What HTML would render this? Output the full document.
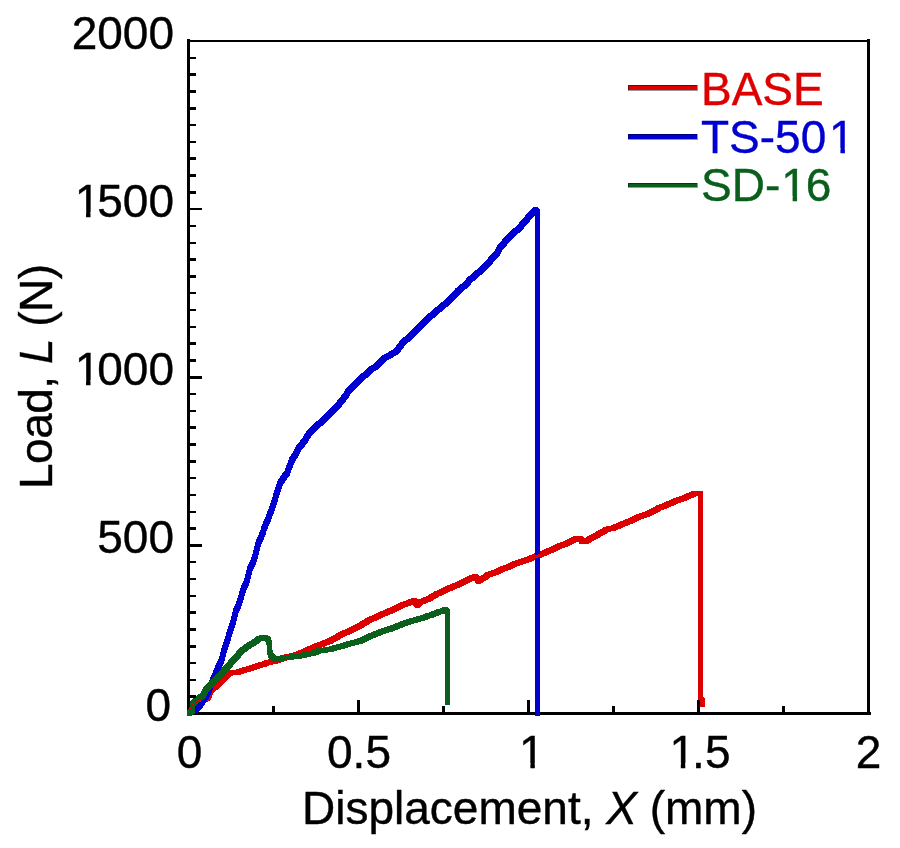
<!DOCTYPE html>
<html><head><meta charset="utf-8"><title>Load vs Displacement</title>
<style>
html,body{margin:0;padding:0;background:#fff;width:900px;height:848px;overflow:hidden}
svg{display:block}
text{font-family:"Liberation Sans",Arial,sans-serif;font-size:46px}
</style></head><body>
<svg width="900" height="848" viewBox="0 0 900 848">
<rect width="900" height="848" fill="#fff"/>
<g fill="#000" shape-rendering="crispEdges">
<rect x="187" y="39" width="3" height="676"/>
<rect x="867" y="39" width="3" height="676"/>
<rect x="187" y="40" width="683" height="2"/>
<rect x="187" y="712" width="684" height="3"/>
</g>
<g shape-rendering="crispEdges">
<path fill="#dc0000" d="M189.00 708.50L190.00 705.00L195.00 705.00L195.00 710.00L194.00 713.50L189.00 713.50ZM190.00 705.00L192.10 700.50L197.10 700.50L197.10 705.50L195.00 710.00L190.00 710.00ZM192.10 700.50L196.70 699.00L201.70 699.00L201.70 704.00L197.10 705.50L192.10 705.50ZM196.70 699.00L201.00 697.30L206.00 697.30L206.00 702.30L201.70 704.00L196.70 704.00ZM201.00 697.30L205.30 695.80L210.30 695.80L210.30 700.80L206.00 702.30L201.00 702.30ZM205.30 695.80L208.10 688.50L213.10 688.50L213.10 693.50L210.30 700.80L205.30 700.80ZM208.10 688.50L213.70 683.50L218.70 683.50L218.70 688.50L213.10 693.50L208.10 693.50ZM213.70 683.50L217.30 680.00L222.30 680.00L222.30 685.00L218.70 688.50L213.70 688.50ZM217.30 680.00L222.50 675.00L227.50 675.00L227.50 680.00L222.30 685.00L217.30 685.00ZM222.50 675.00L226.00 671.70L231.00 671.70L231.00 676.70L227.50 680.00L222.50 680.00ZM226.00 671.70L229.00 670.10L234.00 670.10L234.00 675.10L231.00 676.70L226.00 676.70ZM229.00 670.10L234.60 669.80L239.60 669.80L239.60 674.80L234.00 675.10L229.00 675.10ZM234.60 669.80L240.80 668.00L245.80 668.00L245.80 673.00L239.60 674.80L234.60 674.80ZM240.80 668.00L247.90 665.80L252.90 665.80L252.90 670.80L245.80 673.00L240.80 673.00ZM247.90 665.80L254.20 663.80L259.20 663.80L259.20 668.80L252.90 670.80L247.90 670.80ZM254.20 663.80L261.30 661.60L266.30 661.60L266.30 666.60L259.20 668.80L254.20 668.80ZM261.30 661.60L265.70 660.00L270.70 660.00L270.70 665.00L266.30 666.60L261.30 666.60ZM265.70 660.00L271.90 658.90L276.90 658.90L276.90 663.90L270.70 665.00L265.70 665.00ZM271.90 658.90L277.30 657.00L282.30 657.00L282.30 662.00L276.90 663.90L271.90 663.90ZM277.30 657.00L281.50 655.70L286.50 655.70L286.50 660.70L282.30 662.00L277.30 662.00ZM281.50 655.70L285.00 654.30L290.00 654.30L290.00 659.30L286.50 660.70L281.50 660.70ZM285.00 654.30L287.50 654.00L292.50 654.00L292.50 659.00L290.00 659.30L285.00 659.30ZM287.50 654.00L293.00 652.50L298.00 652.50L298.00 657.50L292.50 659.00L287.50 659.00ZM293.00 652.50L297.50 650.90L302.50 650.90L302.50 655.90L298.00 657.50L293.00 657.50ZM297.50 650.90L302.00 648.90L307.00 648.90L307.00 653.90L302.50 655.90L297.50 655.90ZM302.00 648.90L307.00 646.70L312.00 646.70L312.00 651.70L307.00 653.90L302.00 653.90ZM307.00 646.70L311.50 644.70L316.50 644.70L316.50 649.70L312.00 651.70L307.00 651.70ZM311.50 644.70L315.50 643.10L320.50 643.10L320.50 648.10L316.50 649.70L311.50 649.70ZM315.50 643.10L319.50 641.70L324.50 641.70L324.50 646.70L320.50 648.10L315.50 648.10ZM319.50 641.70L327.50 638.50L332.50 638.50L332.50 643.50L324.50 646.70L319.50 646.70ZM327.50 638.50L337.50 632.80L342.50 632.80L342.50 637.80L332.50 643.50L327.50 643.50ZM337.50 632.80L347.50 628.20L352.50 628.20L352.50 633.20L342.50 637.80L337.50 637.80ZM347.50 628.20L357.50 623.20L362.50 623.20L362.50 628.20L352.50 633.20L347.50 633.20ZM357.50 623.20L367.50 617.30L372.50 617.30L372.50 622.30L362.50 628.20L357.50 628.20ZM367.50 617.30L374.20 614.50L379.20 614.50L379.20 619.50L372.50 622.30L367.50 622.30ZM374.20 614.50L380.80 611.20L385.80 611.20L385.80 616.20L379.20 619.50L374.20 619.50ZM380.80 611.20L387.50 608.50L392.50 608.50L392.50 613.50L385.80 616.20L380.80 616.20ZM387.50 608.50L394.20 605.50L399.20 605.50L399.20 610.50L392.50 613.50L387.50 613.50ZM394.20 605.50L400.80 602.30L405.80 602.30L405.80 607.30L399.20 610.50L394.20 610.50ZM400.80 602.30L407.50 599.80L412.50 599.80L412.50 604.80L405.80 607.30L400.80 607.30ZM407.50 599.80L411.50 598.20L416.50 598.20L416.50 603.20L412.50 604.80L407.50 604.80ZM411.50 598.20L416.50 598.20L420.00 602.70L420.00 607.70L415.00 607.70L411.50 603.20ZM415.00 602.70L418.00 599.00L423.00 599.00L423.00 604.00L420.00 607.70L415.00 607.70ZM418.00 599.00L420.80 598.60L425.80 598.60L425.80 603.60L423.00 604.00L418.00 604.00ZM420.80 598.60L426.20 596.30L431.20 596.30L431.20 601.30L425.80 603.60L420.80 603.60ZM426.20 596.30L434.20 591.50L439.20 591.50L439.20 596.50L431.20 601.30L426.20 601.30ZM434.20 591.50L440.80 588.80L445.80 588.80L445.80 593.80L439.20 596.50L434.20 596.50ZM440.80 588.80L447.50 585.50L452.50 585.50L452.50 590.50L445.80 593.80L440.80 593.80ZM447.50 585.50L454.20 582.80L459.20 582.80L459.20 587.80L452.50 590.50L447.50 590.50ZM454.20 582.80L460.80 579.80L465.80 579.80L465.80 584.80L459.20 587.80L454.20 587.80ZM460.80 579.80L467.50 576.20L472.50 576.20L472.50 581.20L465.80 584.80L460.80 584.80ZM467.50 576.20L472.80 574.20L477.80 574.20L477.80 579.20L472.50 581.20L467.50 581.20ZM472.80 574.20L477.80 574.20L481.20 578.70L481.20 583.70L476.20 583.70L472.80 579.20ZM476.20 578.70L479.00 576.50L484.00 576.50L484.00 581.50L481.20 583.70L476.20 583.70ZM479.00 576.50L480.80 576.00L485.80 576.00L485.80 581.00L484.00 581.50L479.00 581.50ZM480.80 576.00L485.50 572.20L490.50 572.20L490.50 577.20L485.80 581.00L480.80 581.00ZM485.50 572.20L492.20 570.30L497.20 570.30L497.20 575.30L490.50 577.20L485.50 577.20ZM492.20 570.30L498.80 567.00L503.80 567.00L503.80 572.00L497.20 575.30L492.20 575.30ZM498.80 567.00L505.50 564.80L510.50 564.80L510.50 569.80L503.80 572.00L498.80 572.00ZM505.50 564.80L512.20 561.50L517.20 561.50L517.20 566.50L510.50 569.80L505.50 569.80ZM512.20 561.50L518.80 559.20L523.80 559.20L523.80 564.20L517.20 566.50L512.20 566.50ZM518.80 559.20L525.50 557.00L530.50 557.00L530.50 562.00L523.80 564.20L518.80 564.20ZM525.50 557.00L530.80 555.00L535.80 555.00L535.80 560.00L530.50 562.00L525.50 562.00ZM530.80 555.00L538.80 551.70L543.80 551.70L543.80 556.70L535.80 560.00L530.80 560.00ZM538.80 551.70L544.20 549.50L549.20 549.50L549.20 554.50L543.80 556.70L538.80 556.70ZM544.20 549.50L549.20 547.30L554.20 547.30L554.20 552.30L549.20 554.50L544.20 554.50ZM549.20 547.30L555.80 544.00L560.80 544.00L560.80 549.00L554.20 552.30L549.20 552.30ZM555.80 544.00L562.50 541.80L567.50 541.80L567.50 546.80L560.80 549.00L555.80 549.00ZM562.50 541.80L569.20 538.50L574.20 538.50L574.20 543.50L567.50 546.80L562.50 546.80ZM569.20 538.50L573.80 536.30L578.80 536.30L578.80 541.30L574.20 543.50L569.20 543.50ZM573.80 536.30L577.00 535.70L582.00 535.70L582.00 540.70L578.80 541.30L573.80 541.30ZM577.00 535.70L582.00 535.70L584.50 538.70L584.50 543.70L579.50 543.70L577.00 540.70ZM579.50 538.70L588.50 538.70L588.50 543.70L579.50 543.70ZM583.50 538.70L589.20 535.50L594.20 535.50L594.20 540.50L588.50 543.70L583.50 543.70ZM589.20 535.50L595.80 531.80L600.80 531.80L600.80 536.80L594.20 540.50L589.20 540.50ZM595.80 531.80L601.20 528.80L606.20 528.80L606.20 533.80L600.80 536.80L595.80 536.80ZM601.20 528.80L604.20 526.80L609.20 526.80L609.20 531.80L606.20 533.80L601.20 533.80ZM604.20 526.80L610.80 525.50L615.80 525.50L615.80 530.50L609.20 531.80L604.20 531.80ZM610.80 525.50L617.50 522.70L622.50 522.70L622.50 527.70L615.80 530.50L610.80 530.50ZM617.50 522.70L624.20 520.00L629.20 520.00L629.20 525.00L622.50 527.70L617.50 527.70ZM624.20 520.00L630.80 517.20L635.80 517.20L635.80 522.20L629.20 525.00L624.20 525.00ZM630.80 517.20L637.50 514.00L642.50 514.00L642.50 519.00L635.80 522.20L630.80 522.20ZM637.50 514.00L644.20 511.80L649.20 511.80L649.20 516.80L642.50 519.00L637.50 519.00ZM644.20 511.80L650.80 508.80L655.80 508.80L655.80 513.80L649.20 516.80L644.20 516.80ZM650.80 508.80L656.20 505.50L661.20 505.50L661.20 510.50L655.80 513.80L650.80 513.80ZM656.20 505.50L658.10 504.70L663.10 504.70L663.10 509.70L661.20 510.50L656.20 510.50ZM658.10 504.70L663.60 502.80L668.60 502.80L668.60 507.80L663.10 509.70L658.10 509.70ZM663.60 502.80L669.20 500.20L674.20 500.20L674.20 505.20L668.60 507.80L663.60 507.80ZM669.20 500.20L674.70 497.90L679.70 497.90L679.70 502.90L674.20 505.20L669.20 505.20ZM674.70 497.90L680.30 496.10L685.30 496.10L685.30 501.10L679.70 502.90L674.70 502.90ZM680.30 496.10L685.80 493.60L690.80 493.60L690.80 498.60L685.30 501.10L680.30 501.10ZM685.80 493.60L691.40 491.50L696.40 491.50L696.40 496.50L690.80 498.60L685.80 498.60ZM691.40 491.50L695.50 491.10L700.50 491.10L700.50 496.10L696.40 496.50L691.40 496.50ZM695.50 491.10L702.90 491.10L702.90 496.10L695.50 496.10ZM697.90 491.10L702.90 491.10L702.90 701.00L697.90 701.00ZM697.90 696.00L702.90 696.00L705.00 698.50L705.00 703.50L700.00 703.50L697.90 701.00ZM700.00 698.50L705.00 698.50L705.00 707.00L700.00 707.00Z"/>
<path fill="#0000d0" d="M189.80 707.80L197.80 707.80L197.80 712.80L189.80 712.80ZM192.80 707.80L195.50 705.00L200.50 705.00L200.50 710.00L197.80 712.80L192.80 712.80ZM195.50 705.00L197.50 703.00L202.50 703.00L202.50 708.00L200.50 710.00L195.50 710.00ZM197.50 703.00L200.00 699.00L205.00 699.00L205.00 704.00L202.50 708.00L197.50 708.00ZM200.00 699.00L203.00 694.50L208.00 694.50L208.00 699.50L205.00 704.00L200.00 704.00ZM203.00 694.50L206.50 687.50L211.50 687.50L211.50 692.50L208.00 699.50L203.00 699.50ZM206.50 687.50L210.20 677.80L215.20 677.80L215.20 682.80L211.50 692.50L206.50 692.50ZM210.20 677.80L212.50 672.90L217.50 672.90L217.50 677.90L215.20 682.80L210.20 682.80ZM212.50 672.90L215.20 665.80L220.20 665.80L220.20 670.80L217.50 677.90L212.50 677.90ZM215.20 665.80L218.90 658.70L223.90 658.70L223.90 663.70L220.20 670.80L215.20 670.80ZM218.90 658.70L220.50 651.70L225.50 651.70L225.50 656.70L223.90 663.70L218.90 663.70ZM220.50 651.70L222.60 644.60L227.60 644.60L227.60 649.60L225.50 656.70L220.50 656.70ZM222.60 644.60L224.10 640.20L229.10 640.20L229.10 645.20L227.60 649.60L222.60 649.60ZM224.10 640.20L227.20 630.30L232.20 630.30L232.20 635.30L229.10 645.20L224.10 645.20ZM227.20 630.30L229.90 622.00L234.90 622.00L234.90 627.00L232.20 635.30L227.20 635.30ZM229.90 622.00L231.90 615.10L236.90 615.10L236.90 620.10L234.90 627.00L229.90 627.00ZM231.90 615.10L233.50 607.70L238.50 607.70L238.50 612.70L236.90 620.10L231.90 620.10ZM233.50 607.70L236.00 602.70L241.00 602.70L241.00 607.70L238.50 612.70L233.50 612.70ZM236.00 602.70L238.00 596.80L243.00 596.80L243.00 601.80L241.00 607.70L236.00 607.70ZM238.00 596.80L239.20 591.80L244.20 591.80L244.20 596.80L243.00 601.80L238.00 601.80ZM239.20 591.80L241.40 585.40L246.40 585.40L246.40 590.40L244.20 596.80L239.20 596.80ZM241.40 585.40L243.60 580.50L248.60 580.50L248.60 585.50L246.40 590.40L241.40 590.40ZM243.60 580.50L244.90 576.50L249.90 576.50L249.90 581.50L248.60 585.50L243.60 585.50ZM244.90 576.50L247.10 567.00L252.10 567.00L252.10 572.00L249.90 581.50L244.90 581.50ZM247.10 567.00L250.70 560.00L255.70 560.00L255.70 565.00L252.10 572.00L247.10 572.00ZM250.70 560.00L252.90 552.90L257.90 552.90L257.90 557.90L255.70 565.00L250.70 565.00ZM252.90 552.90L254.50 545.80L259.50 545.80L259.50 550.80L257.90 557.90L252.90 557.90ZM254.50 545.80L256.50 538.70L261.50 538.70L261.50 543.70L259.50 550.80L254.50 550.80ZM256.50 538.70L259.90 531.70L264.90 531.70L264.90 536.70L261.50 543.70L256.50 543.70ZM259.90 531.70L262.10 524.60L267.10 524.60L267.10 529.60L264.90 536.70L259.90 536.70ZM262.10 524.60L265.50 516.70L270.50 516.70L270.50 521.70L267.10 529.60L262.10 529.60ZM265.50 516.70L267.70 510.80L272.70 510.80L272.70 515.80L270.50 521.70L265.50 521.70ZM267.70 510.80L270.00 504.90L275.00 504.90L275.00 509.90L272.70 515.80L267.70 515.80ZM270.00 504.90L271.90 499.00L276.90 499.00L276.90 504.00L275.00 509.90L270.00 509.90ZM271.90 499.00L273.50 493.10L278.50 493.10L278.50 498.10L276.90 504.00L271.90 504.00ZM273.50 493.10L275.60 487.20L280.60 487.20L280.60 492.20L278.50 498.10L273.50 498.10ZM275.60 487.20L277.30 481.30L282.30 481.30L282.30 486.30L280.60 492.20L275.60 492.20ZM277.30 481.30L280.90 475.40L285.90 475.40L285.90 480.40L282.30 486.30L277.30 486.30ZM280.90 475.40L284.90 470.20L289.90 470.20L289.90 475.20L285.90 480.40L280.90 480.40ZM284.90 470.20L287.00 463.80L292.00 463.80L292.00 468.80L289.90 475.20L284.90 475.20ZM287.00 463.80L289.50 457.50L294.50 457.50L294.50 462.50L292.00 468.80L287.00 468.80ZM289.50 457.50L292.70 452.70L297.70 452.70L297.70 457.70L294.50 462.50L289.50 462.50ZM292.70 452.70L294.50 448.80L299.50 448.80L299.50 453.80L297.70 457.70L292.70 457.70ZM294.50 448.80L296.10 446.00L301.10 446.00L301.10 451.00L299.50 453.80L294.50 453.80ZM296.10 446.00L298.40 443.20L303.40 443.20L303.40 448.20L301.10 451.00L296.10 451.00ZM298.40 443.20L300.50 440.30L305.50 440.30L305.50 445.30L303.40 448.20L298.40 448.20ZM300.50 440.30L302.50 438.10L307.50 438.10L307.50 443.10L305.50 445.30L300.50 445.30ZM302.50 438.10L304.50 434.00L309.50 434.00L309.50 439.00L307.50 443.10L302.50 443.10ZM304.50 434.00L309.00 428.10L314.00 428.10L314.00 433.10L309.50 439.00L304.50 439.00ZM309.00 428.10L316.00 422.00L321.00 422.00L321.00 427.00L314.00 433.10L309.00 433.10ZM316.00 422.00L322.00 416.10L327.00 416.10L327.00 421.10L321.00 427.00L316.00 427.00ZM322.00 416.10L328.30 410.20L333.30 410.20L333.30 415.20L327.00 421.10L322.00 421.10ZM328.30 410.20L334.20 404.30L339.20 404.30L339.20 409.30L333.30 415.20L328.30 415.20ZM334.20 404.30L339.10 398.40L344.10 398.40L344.10 403.40L339.20 409.30L334.20 409.30ZM339.10 398.40L342.90 393.70L347.90 393.70L347.90 398.70L344.10 403.40L339.10 403.40ZM342.90 393.70L346.40 387.90L351.40 387.90L351.40 392.90L347.90 398.70L342.90 398.70ZM346.40 387.90L349.00 385.70L354.00 385.70L354.00 390.70L351.40 392.90L346.40 392.90ZM349.00 385.70L355.50 378.80L360.50 378.80L360.50 383.80L354.00 390.70L349.00 390.70ZM355.50 378.80L362.00 373.00L367.00 373.00L367.00 378.00L360.50 383.80L355.50 383.80ZM362.00 373.00L368.40 367.20L373.40 367.20L373.40 372.20L367.00 378.00L362.00 378.00ZM368.40 367.20L374.90 363.00L379.90 363.00L379.90 368.00L373.40 372.20L368.40 372.20ZM374.90 363.00L381.40 356.10L386.40 356.10L386.40 361.10L379.90 368.00L374.90 368.00ZM381.40 356.10L387.90 352.50L392.90 352.50L392.90 357.50L386.40 361.10L381.40 361.10ZM387.90 352.50L394.40 348.40L399.40 348.40L399.40 353.40L392.90 357.50L387.90 357.50ZM394.40 348.40L399.00 341.80L404.00 341.80L404.00 346.80L399.40 353.40L394.40 353.40ZM399.00 341.80L405.50 335.60L410.50 335.60L410.50 340.60L404.00 346.80L399.00 346.80ZM405.50 335.60L412.00 329.80L417.00 329.80L417.00 334.80L410.50 340.60L405.50 340.60ZM412.00 329.80L418.40 322.70L423.40 322.70L423.40 327.70L417.00 334.80L412.00 334.80ZM418.40 322.70L424.90 316.80L429.90 316.80L429.90 321.80L423.40 327.70L418.40 327.70ZM424.90 316.80L431.40 310.80L436.40 310.80L436.40 315.80L429.90 321.80L424.90 321.80ZM431.40 310.80L437.90 305.50L442.90 305.50L442.90 310.50L436.40 315.80L431.40 315.80ZM437.90 305.50L444.40 300.00L449.40 300.00L449.40 305.00L442.90 310.50L437.90 310.50ZM444.40 300.00L450.00 294.30L455.00 294.30L455.00 299.30L449.40 305.00L444.40 305.00ZM450.00 294.30L455.50 288.50L460.50 288.50L460.50 293.50L455.00 299.30L450.00 299.30ZM455.50 288.50L462.00 283.30L467.00 283.30L467.00 288.30L460.50 293.50L455.50 293.50ZM462.00 283.30L468.40 276.50L473.40 276.50L473.40 281.50L467.00 288.30L462.00 288.30ZM468.40 276.50L474.90 270.90L479.90 270.90L479.90 275.90L473.40 281.50L468.40 281.50ZM474.90 270.90L481.40 265.50L486.40 265.50L486.40 270.50L479.90 275.90L474.90 275.90ZM481.40 265.50L487.90 258.10L492.90 258.10L492.90 263.10L486.40 270.50L481.40 270.50ZM487.90 258.10L494.40 251.00L499.40 251.00L499.40 256.00L492.90 263.10L487.90 263.10ZM494.40 251.00L498.40 243.80L503.40 243.80L503.40 248.80L499.40 256.00L494.40 256.00ZM498.40 243.80L504.30 237.60L509.30 237.60L509.30 242.60L503.40 248.80L498.40 248.80ZM504.30 237.60L510.20 230.80L515.20 230.80L515.20 235.80L509.30 242.60L504.30 242.60ZM510.20 230.80L516.10 226.70L521.10 226.70L521.10 231.70L515.20 235.80L510.20 235.80ZM516.10 226.70L522.00 219.30L527.00 219.30L527.00 224.30L521.10 231.70L516.10 231.70ZM522.00 219.30L527.90 212.80L532.90 212.80L532.90 217.80L527.00 224.30L522.00 224.30ZM527.90 212.80L530.80 209.60L535.80 209.60L535.80 214.60L532.90 217.80L527.90 217.80ZM530.80 209.60L533.00 207.10L538.00 207.10L538.00 212.10L535.80 214.60L530.80 214.60ZM533.00 207.10L538.00 207.10L540.00 209.00L540.00 214.00L535.00 214.00L533.00 212.10ZM535.00 209.00L540.00 209.00L540.00 716.00L535.00 716.00Z"/>
<path fill="#0a5f1c" d="M186.50 710.80L189.80 708.50L194.80 708.50L194.80 713.50L191.50 715.80L186.50 715.80ZM189.80 708.50L190.10 701.50L195.10 701.50L195.10 706.50L194.80 713.50L189.80 713.50ZM190.10 701.50L193.00 698.00L198.00 698.00L198.00 703.00L195.10 706.50L190.10 706.50ZM193.00 698.00L197.50 695.30L202.50 695.30L202.50 700.30L198.00 703.00L193.00 703.00ZM197.50 695.30L201.00 692.30L206.00 692.30L206.00 697.30L202.50 700.30L197.50 700.30ZM201.00 692.30L204.00 686.50L209.00 686.50L209.00 691.50L206.00 697.30L201.00 697.30ZM204.00 686.50L208.60 681.90L213.60 681.90L213.60 686.90L209.00 691.50L204.00 691.50ZM208.60 681.90L213.20 677.30L218.20 677.30L218.20 682.30L213.60 686.90L208.60 686.90ZM213.20 677.30L217.80 672.70L222.80 672.70L222.80 677.70L218.20 682.30L213.20 682.30ZM217.80 672.70L221.80 668.10L226.80 668.10L226.80 673.10L222.80 677.70L217.80 677.70ZM221.80 668.10L225.70 663.80L230.70 663.80L230.70 668.80L226.80 673.10L221.80 673.10ZM225.70 663.80L228.60 660.30L233.60 660.30L233.60 665.30L230.70 668.80L225.70 668.80ZM228.60 660.30L231.90 656.70L236.90 656.70L236.90 661.70L233.60 665.30L228.60 665.30ZM231.90 656.70L235.10 653.20L240.10 653.20L240.10 658.20L236.90 661.70L231.90 661.70ZM235.10 653.20L237.70 649.60L242.70 649.60L242.70 654.60L240.10 658.20L235.10 658.20ZM237.70 649.60L242.50 645.90L247.50 645.90L247.50 650.90L242.70 654.60L237.70 654.60ZM242.50 645.90L245.80 643.30L250.80 643.30L250.80 648.30L247.50 650.90L242.50 650.90ZM245.80 643.30L250.00 641.10L255.00 641.10L255.00 646.10L250.80 648.30L245.80 648.30ZM250.00 641.10L254.00 638.50L259.00 638.50L259.00 643.50L255.00 646.10L250.00 646.10ZM254.00 638.50L257.00 635.80L262.00 635.80L262.00 640.80L259.00 643.50L254.00 643.50ZM257.00 635.80L260.00 635.40L265.00 635.40L265.00 640.40L262.00 640.80L257.00 640.80ZM260.00 635.40L268.00 635.40L268.00 640.40L260.00 640.40ZM263.00 635.40L268.00 635.40L271.00 637.30L271.00 642.30L266.00 642.30L263.00 640.40ZM266.00 637.30L271.00 637.30L271.90 642.50L271.90 647.50L266.90 647.50L266.00 642.30ZM266.90 642.50L271.90 642.50L272.10 648.50L272.10 653.50L267.10 653.50L266.90 647.50ZM267.10 648.50L272.10 648.50L274.00 654.00L274.00 659.00L269.00 659.00L267.10 653.50ZM269.00 654.00L274.00 654.00L277.50 657.10L277.50 662.10L272.50 662.10L269.00 659.00ZM272.50 657.10L277.30 655.80L282.30 655.80L282.30 660.80L277.50 662.10L272.50 662.10ZM277.30 655.80L284.20 655.00L289.20 655.00L289.20 660.00L282.30 660.80L277.30 660.80ZM284.20 655.00L295.30 653.80L300.30 653.80L300.30 658.80L289.20 660.00L284.20 660.00ZM295.30 653.80L303.60 652.10L308.60 652.10L308.60 657.10L300.30 658.80L295.30 658.80ZM303.60 652.10L311.90 650.30L316.90 650.30L316.90 655.30L308.60 657.10L303.60 657.10ZM311.90 650.30L316.40 648.50L321.40 648.50L321.40 653.50L316.90 655.30L311.90 655.30ZM316.40 648.50L327.50 646.80L332.50 646.80L332.50 651.80L321.40 653.50L316.40 653.50ZM327.50 646.80L337.50 644.20L342.50 644.20L342.50 649.20L332.50 651.80L327.50 651.80ZM337.50 644.20L347.50 641.20L352.50 641.20L352.50 646.20L342.50 649.20L337.50 649.20ZM347.50 641.20L357.50 638.50L362.50 638.50L362.50 643.50L352.50 646.20L347.50 646.20ZM357.50 638.50L367.50 633.70L372.50 633.70L372.50 638.70L362.50 643.50L357.50 643.50ZM367.50 633.70L374.20 631.20L379.20 631.20L379.20 636.20L372.50 638.70L367.50 638.70ZM374.20 631.20L380.80 628.50L385.80 628.50L385.80 633.50L379.20 636.20L374.20 636.20ZM380.80 628.50L387.50 626.50L392.50 626.50L392.50 631.50L385.80 633.50L380.80 633.50ZM387.50 626.50L394.20 624.00L399.20 624.00L399.20 629.00L392.50 631.50L387.50 631.50ZM394.20 624.00L400.80 621.20L405.80 621.20L405.80 626.20L399.20 629.00L394.20 629.00ZM400.80 621.20L407.50 618.80L412.50 618.80L412.50 623.80L405.80 626.20L400.80 626.20ZM407.50 618.80L414.20 617.20L419.20 617.20L419.20 622.20L412.50 623.80L407.50 623.80ZM414.20 617.20L418.50 615.80L423.50 615.80L423.50 620.80L419.20 622.20L414.20 622.20ZM418.50 615.80L422.50 614.80L427.50 614.80L427.50 619.80L423.50 620.80L418.50 620.80ZM422.50 614.80L425.80 613.00L430.80 613.00L430.80 618.00L427.50 619.80L422.50 619.80ZM425.80 613.00L429.20 612.50L434.20 612.50L434.20 617.50L430.80 618.00L425.80 618.00ZM429.20 612.50L432.50 611.00L437.50 611.00L437.50 616.00L434.20 617.50L429.20 617.50ZM432.50 611.00L435.80 609.50L440.80 609.50L440.80 614.50L437.50 616.00L432.50 616.00ZM435.80 609.50L439.20 608.80L444.20 608.80L444.20 613.80L440.80 614.50L435.80 614.50ZM439.20 608.80L443.00 607.20L448.00 607.20L448.00 612.20L444.20 613.80L439.20 613.80ZM443.00 607.20L448.00 607.20L449.90 609.50L449.90 614.50L444.90 614.50L443.00 612.20ZM444.90 609.50L449.90 609.50L449.90 704.50L444.90 704.50Z"/>
<path fill="#dc0000" d="M534 555.5L541 553.5L541 556.5L534 558.5Z"/>
<g fill="#dc0000"><rect x="189" y="707" width="2" height="2"/><rect x="191" y="703" width="3" height="2"/><rect x="196" y="702" width="2" height="2"/><rect x="198" y="700" width="3" height="2"/></g>
</g>
<g fill="#000" shape-rendering="crispEdges">
<rect x="189" y="695.44" width="7" height="2.5"/>
<rect x="189" y="678.62" width="7" height="2.5"/>
<rect x="189" y="661.81" width="7" height="2.5"/>
<rect x="189" y="645.00" width="7" height="2.5"/>
<rect x="189" y="628.19" width="7" height="2.5"/>
<rect x="189" y="611.38" width="7" height="2.5"/>
<rect x="189" y="594.56" width="7" height="2.5"/>
<rect x="189" y="577.75" width="7" height="2.5"/>
<rect x="189" y="560.94" width="7" height="2.5"/>
<rect x="189" y="544.12" width="13" height="2.5"/>
<rect x="189" y="527.31" width="7" height="2.5"/>
<rect x="189" y="510.50" width="7" height="2.5"/>
<rect x="189" y="493.69" width="7" height="2.5"/>
<rect x="189" y="476.88" width="7" height="2.5"/>
<rect x="189" y="460.06" width="7" height="2.5"/>
<rect x="189" y="443.25" width="7" height="2.5"/>
<rect x="189" y="426.44" width="7" height="2.5"/>
<rect x="189" y="409.62" width="7" height="2.5"/>
<rect x="189" y="392.81" width="7" height="2.5"/>
<rect x="189" y="376.00" width="13" height="2.5"/>
<rect x="189" y="359.19" width="7" height="2.5"/>
<rect x="189" y="342.38" width="7" height="2.5"/>
<rect x="189" y="325.56" width="7" height="2.5"/>
<rect x="189" y="308.75" width="7" height="2.5"/>
<rect x="189" y="291.94" width="7" height="2.5"/>
<rect x="189" y="275.12" width="7" height="2.5"/>
<rect x="189" y="258.31" width="7" height="2.5"/>
<rect x="189" y="241.50" width="7" height="2.5"/>
<rect x="189" y="224.69" width="7" height="2.5"/>
<rect x="189" y="207.88" width="13" height="2.5"/>
<rect x="189" y="191.06" width="7" height="2.5"/>
<rect x="189" y="174.25" width="7" height="2.5"/>
<rect x="189" y="157.44" width="7" height="2.5"/>
<rect x="189" y="140.62" width="7" height="2.5"/>
<rect x="189" y="123.81" width="7" height="2.5"/>
<rect x="189" y="107.00" width="7" height="2.5"/>
<rect x="189" y="90.19" width="7" height="2.5"/>
<rect x="189" y="73.38" width="7" height="2.5"/>
<rect x="189" y="56.56" width="7" height="2.5"/>
<rect x="272.25" y="706" width="2.5" height="7"/>
<rect x="357.25" y="700" width="2.5" height="13"/>
<rect x="442.25" y="706" width="2.5" height="7"/>
<rect x="527.25" y="700" width="2.5" height="13"/>
<rect x="612.25" y="706" width="2.5" height="7"/>
<rect x="697.25" y="700" width="2.5" height="13"/>
<rect x="782.25" y="706" width="2.5" height="7"/>
</g>
<g id="labels" stroke="#000" stroke-width="0.4"><text x="174" y="48.5" text-anchor="end">2000</text>
<text x="71.67" y="216.8"><tspan dx="3.00">1</tspan><tspan dx="-3.00">5</tspan>00</text>
<text x="71.67" y="384.5"><tspan dx="3.00">1</tspan><tspan dx="-3.00">0</tspan>00</text>
<text x="174" y="552.5" text-anchor="end">500</text>
<text x="171" y="720.5" text-anchor="end">0</text>
<text x="189.5" y="768" text-anchor="middle">0</text>
<text x="359" y="768" text-anchor="middle">0.5</text>
<text x="531.8" y="768" text-anchor="middle">1</text>
<text x="666.53" y="768"><tspan dx="2.90">1</tspan><tspan dx="-2.90">.</tspan>5</text>
<text x="868.5" y="768" text-anchor="middle">2</text>
<text x="302" y="824">Displacement, <tspan font-style="italic">X</tspan> (mm)</text>
<text transform="translate(52,489) rotate(-90)" letter-spacing="-0.5">Load, <tspan font-style="italic">L</tspan> (N)</text>
<g shape-rendering="crispEdges">
<rect x="628" y="85" width="69" height="5" fill="#dc0000"/>
<rect x="628" y="134" width="69" height="5" fill="#0000d0"/>
<rect x="628" y="183" width="69" height="4" fill="#0a5f1c"/>
</g>
<text x="701" y="104.5" fill="#dc0000" stroke="#dc0000">BASE</text>
<text x="701" y="152.5" fill="#0000d0" stroke="#0000d0">TS-50<tspan dx="2.80">1</tspan></text>
<text x="701" y="200.5" fill="#0a5f1c" stroke="#0a5f1c">SD-<tspan dx="1.00">1</tspan><tspan dx="-1.00">6</tspan></text></g>
<g fill="#fff"><rect x="77" y="212" width="9.04" height="7"/><rect x="90.50" y="212" width="8.50" height="7"/><rect x="77" y="380" width="9.04" height="6"/><rect x="90.50" y="380" width="8.50" height="6"/><rect x="521" y="763" width="9.37" height="7"/><rect x="534.84" y="763" width="8.16" height="7"/><rect x="671" y="763" width="9.80" height="7"/><rect x="685.26" y="763" width="7.74" height="7"/><rect x="831" y="148" width="9.43" height="6"/><rect x="844.90" y="148" width="8.10" height="6"/><rect x="783" y="196" width="9.60" height="6"/><rect x="797.07" y="196" width="7.93" height="6"/></g>
</svg>
</body></html>
